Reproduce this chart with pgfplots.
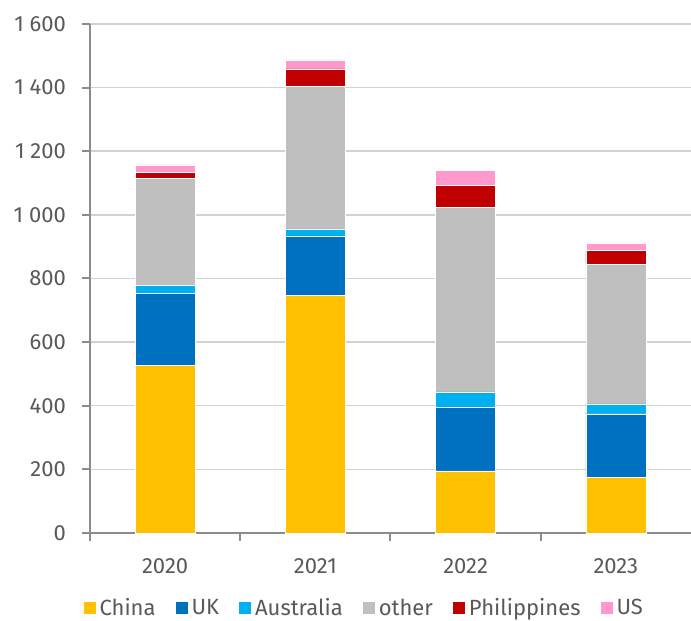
\documentclass[border=0pt]{standalone}
\usepackage{fontspec}
\setmainfont{Fira Sans}
\usepackage{pgfplots}
\pgfplotsset{compat=1.18}
\definecolor{chinac}{RGB}{255,192,0}
\definecolor{ukc}{RGB}{0,112,192}
\definecolor{ausc}{RGB}{0,176,240}
\definecolor{otherc}{RGB}{191,191,191}
\definecolor{philc}{RGB}{192,0,0}
\definecolor{usc}{RGB}{255,153,204}
\definecolor{textc}{RGB}{89,89,89}
\definecolor{axisc}{RGB}{140,140,140}
\definecolor{gridc}{RGB}{210,210,210}

\begin{document}
\begin{tikzpicture}
\path[use as bounding box] (-45pt,-44pt) rectangle (300.5pt,266.5pt);
\begin{axis}[
  scale only axis, width=300.5pt, height=254.5pt,
  ybar stacked, bar width=30pt,
  xmin=-0.5, xmax=3.5, ymin=0, ymax=1600,
  xtick={0,1,2,3}, xticklabels={2020,2021,2022,2023},
  major x tick style={draw=none},
  minor xtick={-0.5,0.5,1.5,2.5},
  minor tick length=4pt,
  ytick={0,200,...,1600},
  major tick length=4pt,
  tick align=outside,
  axis x line*=bottom, axis y line*=left,
  axis line style={axisc, line width=1pt},
  tick style={axisc, line width=1pt},
  ymajorgrids, grid style={gridc, line width=0.75pt},
  font=\fontsize{11}{13}\selectfont,
  tick label style={text=textc},
  /pgf/number format/1000 sep={\ },
  /pgf/number format/assume math mode=true,
  yticklabel style={xshift=-4.5pt},
  xticklabel style={yshift=-5pt},
  legend columns=-1,
  legend style={at={(0.458,-0.148)}, anchor=center, draw=none,
    text=textc, font=\fontsize{11}{13}\selectfont,
    /tikz/every even column/.append style={column sep=8pt}},
  legend image code/.code={\fill[#1,draw=none] (0pt,-3pt) rectangle (6pt,3pt);},
  every axis plot/.append style={draw=white, line width=0.2pt},
]
\addplot[fill=chinac] coordinates {(0,528) (1,748) (2,195) (3,176)};
\addplot[fill=ukc] coordinates {(0,226) (1,186) (2,199) (3,199)};
\addplot[fill=ausc] coordinates {(0,24) (1,22) (2,50) (3,31)};
\addplot[fill=otherc] coordinates {(0,337) (1,447) (2,579) (3,439)};
\addplot[fill=philc] coordinates {(0,19) (1,56) (2,69) (3,43)};
\addplot[fill=usc] coordinates {(0,23) (1,28) (2,47) (3,24)};
\legend{China, UK, Australia, other, Philippines, US}
\end{axis}
\end{tikzpicture}
\end{document}
